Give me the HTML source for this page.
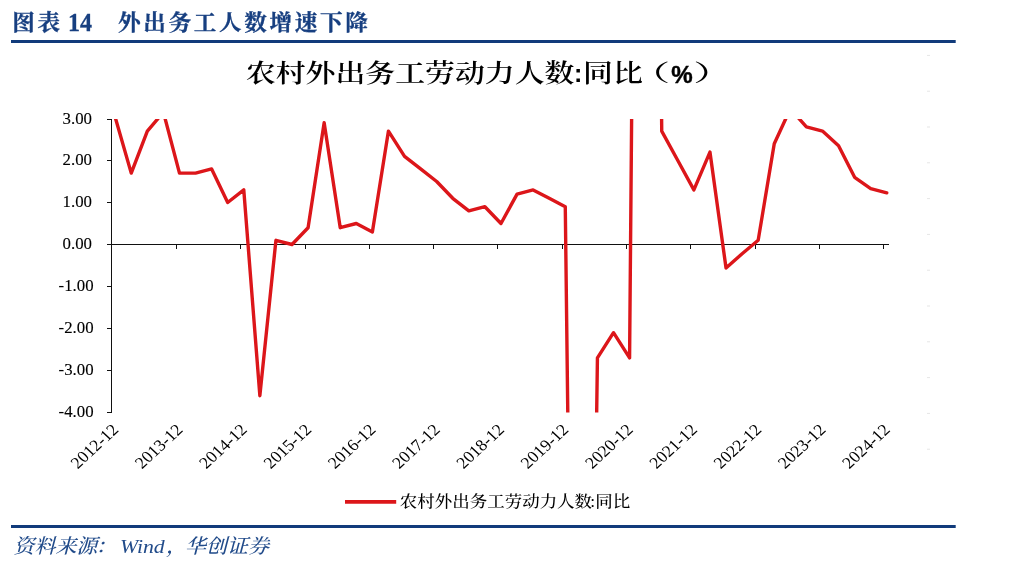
<!DOCTYPE html>
<html lang="zh-CN"><head><meta charset="utf-8"><title>图表 14 外出务工人数增速下降</title>
<style>html,body{margin:0;padding:0;background:#fff;}body{width:1016px;height:562px;overflow:hidden;}svg{display:block;will-change:transform;}text{font-family:"Liberation Serif", "Noto Serif CJK SC", serif;}.sn{font-family:"Liberation Sans", "Noto Sans CJK SC", sans-serif;}</style></head><body>
<svg width="1016" height="562" viewBox="0 0 1016 562">
<rect width="1016" height="562" fill="#fff"/>
<g id="hdr" stroke="#173f80" stroke-width="0.3">
<text transform="translate(12.20,30.05) scale(1.05,1)" font-size="21.5" fill="#173f80" font-weight="700" text-anchor="start" letter-spacing="2.55">图表</text>
<text transform="translate(68.00,31.10) scale(0.94,1)" font-size="25.5" fill="#173f80" font-weight="700" text-anchor="start">14</text>
<text transform="translate(118.00,30.05) scale(1.05,1)" font-size="21.5" fill="#173f80" font-weight="700" text-anchor="start" letter-spacing="2.55">外出务工人数增速下降</text>
</g>
<rect x="11" y="40" width="944.7" height="3" fill="#113b7b"/>
<g id="title">
<text transform="translate(245.80,81.70) scale(1.1725,1)" font-size="25.5" fill="#000" font-weight="600" text-anchor="start">农村外出务工劳动力人数</text>
<text class="sn" transform="translate(574.0,82.0) scale(1.0,1)" font-size="25" font-weight="700">:</text>
<text transform="translate(583.00,81.70) scale(1.1725,1)" font-size="25.5" fill="#000" font-weight="600" text-anchor="start">同比</text>
<text transform="translate(630.00,80.80) scale(1.75,1)" font-size="23" fill="#000" font-weight="500" text-anchor="start">（</text>
<text class="sn" transform="translate(671.3,83.0) scale(0.98,1)" font-size="24.6" font-weight="700" stroke="#000" stroke-width="0.45">%</text>
<text transform="translate(693.30,80.80) scale(1.75,1)" font-size="23" fill="#000" font-weight="500" text-anchor="start">）</text>
</g>
<defs><clipPath id="pc"><rect x="109.60" y="119.00" width="783.40" height="293.60"/></clipPath></defs>
<g stroke="#111" stroke-width="1" fill="none">
<line x1="111.5" y1="119" x2="111.5" y2="413"/>
<line x1="111.0" y1="244.5" x2="889.0" y2="244.5"/>
<line x1="107.0" y1="119.5" x2="111.5" y2="119.5"/>
<line x1="107.0" y1="160.5" x2="111.5" y2="160.5"/>
<line x1="107.0" y1="202.5" x2="111.5" y2="202.5"/>
<line x1="107.0" y1="244.5" x2="111.5" y2="244.5"/>
<line x1="107.0" y1="286.5" x2="111.5" y2="286.5"/>
<line x1="107.0" y1="328.5" x2="111.5" y2="328.5"/>
<line x1="107.0" y1="370.5" x2="111.5" y2="370.5"/>
<line x1="107.0" y1="412.5" x2="111.5" y2="412.5"/>
<line x1="176.5" y1="244.5" x2="176.5" y2="249.0"/>
<line x1="240.5" y1="244.5" x2="240.5" y2="249.0"/>
<line x1="305.5" y1="244.5" x2="305.5" y2="249.0"/>
<line x1="369.5" y1="244.5" x2="369.5" y2="249.0"/>
<line x1="433.5" y1="244.5" x2="433.5" y2="249.0"/>
<line x1="497.5" y1="244.5" x2="497.5" y2="249.0"/>
<line x1="562.5" y1="244.5" x2="562.5" y2="249.0"/>
<line x1="626.5" y1="244.5" x2="626.5" y2="249.0"/>
<line x1="690.5" y1="244.5" x2="690.5" y2="249.0"/>
<line x1="755.5" y1="244.5" x2="755.5" y2="249.0"/>
<line x1="819.5" y1="244.5" x2="819.5" y2="249.0"/>
<line x1="883.5" y1="244.5" x2="883.5" y2="249.0"/>
</g>
<g id="ylab" stroke="#000" stroke-width="0.12">
<text transform="translate(92.00,124.40) scale(1.02,1)" font-size="16.5" fill="#000" font-weight="normal" text-anchor="end">3.00</text>
<text transform="translate(92.00,165.40) scale(1.02,1)" font-size="16.5" fill="#000" font-weight="normal" text-anchor="end">2.00</text>
<text transform="translate(92.00,207.40) scale(1.02,1)" font-size="16.5" fill="#000" font-weight="normal" text-anchor="end">1.00</text>
<text transform="translate(92.00,249.40) scale(1.02,1)" font-size="16.5" fill="#000" font-weight="normal" text-anchor="end">0.00</text>
<text transform="translate(93.60,291.40) scale(1.02,1)" font-size="16.5" fill="#000" font-weight="normal" text-anchor="end">-1.00</text>
<text transform="translate(93.60,333.40) scale(1.02,1)" font-size="16.5" fill="#000" font-weight="normal" text-anchor="end">-2.00</text>
<text transform="translate(93.60,375.40) scale(1.02,1)" font-size="16.5" fill="#000" font-weight="normal" text-anchor="end">-3.00</text>
<text transform="translate(93.60,417.40) scale(1.02,1)" font-size="16.5" fill="#000" font-weight="normal" text-anchor="end">-4.00</text>
</g>
<g id="xlab">
<text transform="translate(119.50,430.6) scale(1.075,1) rotate(-45)" font-size="16.5" text-anchor="end">2012-12</text>
<text transform="translate(183.80,430.6) scale(1.075,1) rotate(-45)" font-size="16.5" text-anchor="end">2013-12</text>
<text transform="translate(248.10,430.6) scale(1.075,1) rotate(-45)" font-size="16.5" text-anchor="end">2014-12</text>
<text transform="translate(312.40,430.6) scale(1.075,1) rotate(-45)" font-size="16.5" text-anchor="end">2015-12</text>
<text transform="translate(376.70,430.6) scale(1.075,1) rotate(-45)" font-size="16.5" text-anchor="end">2016-12</text>
<text transform="translate(441.00,430.6) scale(1.075,1) rotate(-45)" font-size="16.5" text-anchor="end">2017-12</text>
<text transform="translate(505.30,430.6) scale(1.075,1) rotate(-45)" font-size="16.5" text-anchor="end">2018-12</text>
<text transform="translate(569.60,430.6) scale(1.075,1) rotate(-45)" font-size="16.5" text-anchor="end">2019-12</text>
<text transform="translate(633.90,430.6) scale(1.075,1) rotate(-45)" font-size="16.5" text-anchor="end">2020-12</text>
<text transform="translate(698.20,430.6) scale(1.075,1) rotate(-45)" font-size="16.5" text-anchor="end">2021-12</text>
<text transform="translate(762.50,430.6) scale(1.075,1) rotate(-45)" font-size="16.5" text-anchor="end">2022-12</text>
<text transform="translate(826.80,430.6) scale(1.075,1) rotate(-45)" font-size="16.5" text-anchor="end">2023-12</text>
<text transform="translate(891.10,430.6) scale(1.075,1) rotate(-45)" font-size="16.5" text-anchor="end">2024-12</text>
</g>
<polyline clip-path="url(#pc)" points="115.18,117.24 131.25,173.10 147.33,131.10 163.41,112.20 179.48,173.10 195.56,173.10 211.63,168.90 227.70,202.50 243.78,189.90 259.86,395.70 275.93,240.30 292.00,244.50 308.08,227.70 324.15,122.70 340.23,227.70 356.31,223.50 372.38,231.90 388.45,131.10 404.53,156.30 420.61,168.90 436.68,181.50 452.75,198.30 468.83,210.90 484.90,206.70 500.98,223.50 517.06,194.10 533.13,189.90 549.20,198.30 565.28,206.70 581.36,1529.70 597.43,357.90 613.50,332.70 629.58,357.90 645.65,-1523.70 661.73,131.10 677.81,160.50 693.88,189.90 709.95,152.10 726.03,268.02 742.11,253.74 758.18,240.30 774.25,143.70 790.33,108.84 806.40,126.90 822.48,131.10 838.56,145.80 854.63,177.30 870.70,188.64 886.78,192.84" fill="none" stroke="#dc161a" stroke-width="3.4" stroke-linejoin="round" stroke-linecap="round"/>
<g fill="#e6e6e6">
<rect x="927" y="54.9" width="3" height="1"/>
<rect x="927" y="90.7" width="3" height="1"/>
<rect x="927" y="126.5" width="3" height="1"/>
<rect x="927" y="162.3" width="3" height="1"/>
<rect x="927" y="198.1" width="3" height="1"/>
<rect x="927" y="233.9" width="3" height="1"/>
<rect x="927" y="269.7" width="3" height="1"/>
<rect x="927" y="305.5" width="3" height="1"/>
<rect x="927" y="341.3" width="3" height="1"/>
<rect x="927" y="377.1" width="3" height="1"/>
<rect x="927" y="412.9" width="3" height="1"/>
<rect x="927" y="448.7" width="3" height="1"/>
</g>
<line x1="345" y1="501.9" x2="396.2" y2="501.9" stroke="#dc161a" stroke-width="3.8"/>
<g id="legend">
<text transform="translate(399.80,507.20) scale(1.1,1)" font-size="15.9" fill="#000" font-weight="500" text-anchor="start">农村外出务工劳动力人数</text>
<text transform="translate(590.20,507.00) scale(1.1,1)" font-size="15.9" fill="#000" font-weight="500" text-anchor="start">:</text>
<text transform="translate(595.20,507.20) scale(1.1,1)" font-size="15.9" fill="#000" font-weight="500" text-anchor="start">同比</text>
</g>
<rect x="11" y="525" width="944.7" height="3" fill="#113b7b"/>
<g id="ftr">
<text transform="translate(13.40,552.90) scale(1.05,1) skewX(-14)" font-size="20.0" fill="#214b8a" font-weight="500">资料来源</text>
<text transform="translate(95.60,552.90) scale(1.05,1) skewX(-14)" font-size="20.0" fill="#214b8a" font-weight="500">：</text>
<text transform="translate(120.0,552.6) scale(1.1,1)" font-size="19.8" font-style="italic" fill="#214b8a">Wind</text>
<text transform="translate(166.00,552.90) scale(1.05,1) skewX(-14)" font-size="20.0" fill="#214b8a" font-weight="500">，</text>
<text transform="translate(185.00,552.90) scale(1.05,1) skewX(-14)" font-size="20.0" fill="#214b8a" font-weight="500">华创证券</text>
</g>
</svg></body></html>
